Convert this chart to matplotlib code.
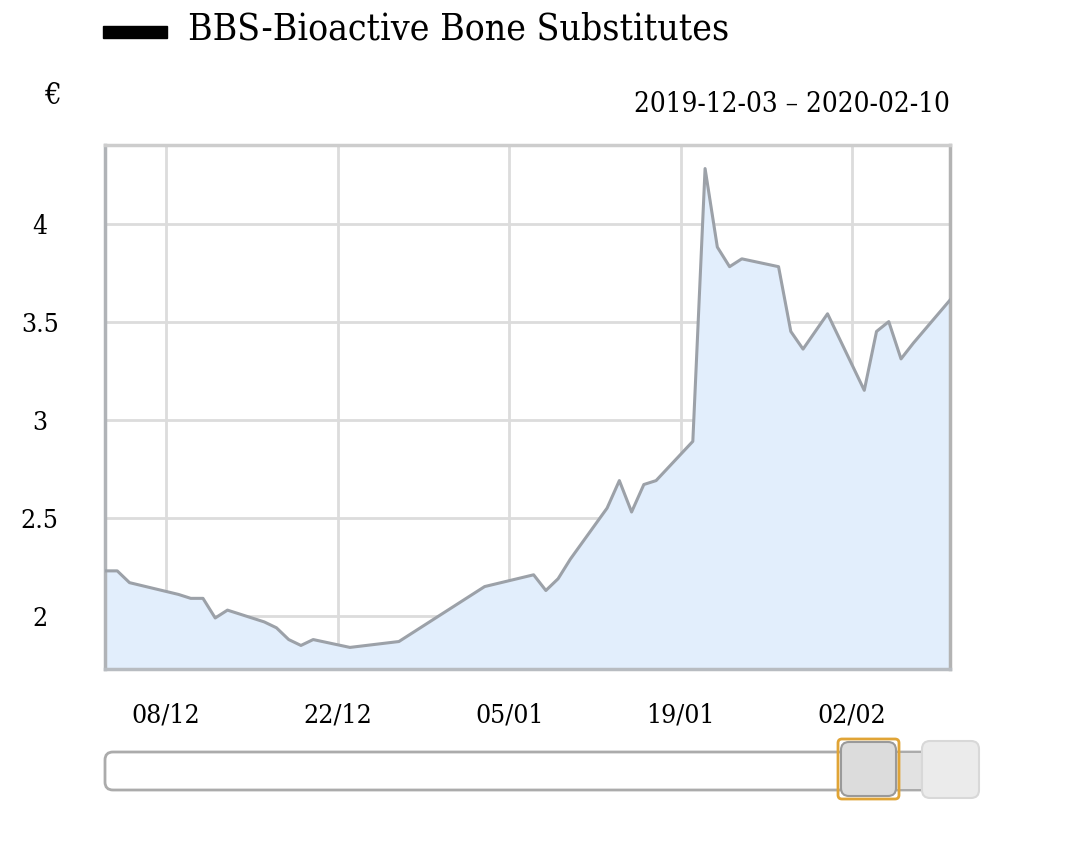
import pandas as pd
import matplotlib.pyplot as plt
import matplotlib.dates as mdates
from matplotlib.patches import FancyBboxPatch, Rectangle

# price series (EUR)
dates = ["2019-12-03", "2019-12-04", "2019-12-05", "2019-12-09", "2019-12-10",
         "2019-12-11", "2019-12-12", "2019-12-13", "2019-12-16", "2019-12-17",
         "2019-12-18", "2019-12-19", "2019-12-20", "2019-12-23", "2019-12-27",
         "2020-01-03", "2020-01-07", "2020-01-08", "2020-01-09", "2020-01-10",
         "2020-01-13", "2020-01-14", "2020-01-15", "2020-01-16", "2020-01-17",
         "2020-01-20", "2020-01-21", "2020-01-22", "2020-01-23", "2020-01-24",
         "2020-01-27", "2020-01-28", "2020-01-29", "2020-01-30", "2020-01-31",
         "2020-02-03", "2020-02-04", "2020-02-05", "2020-02-06", "2020-02-07",
         "2020-02-10"]
prices = [2.23, 2.23, 2.17, 2.11, 2.09,
          2.09, 1.99, 2.03, 1.97, 1.94,
          1.88, 1.85, 1.88, 1.84, 1.87,
          2.15, 2.21, 2.13, 2.19, 2.29,
          2.55, 2.69, 2.53, 2.67, 2.69,
          2.89, 4.28, 3.88, 3.78, 3.82,
          3.78, 3.45, 3.36, 3.45, 3.54,
          3.15, 3.45, 3.50, 3.31, 3.39,
          3.61]

series_name = "BBS-Bioactive Bone Substitutes"
date_range = "2019-12-03 \u2013 2020-02-10"
x_ticks = ["2019-12-08", "2019-12-22", "2020-01-05", "2020-01-19", "2020-02-02"]
y_ticks = [2, 2.5, 3, 3.5, 4]
y_labels = ["2", "2.5", "3", "3.5", "4"]

df = pd.DataFrame({"date": pd.to_datetime(dates), "price": prices})

plt.rcParams['font.family'] = ['DejaVu Serif']
plt.rcParams['font.stretch'] = 'condensed'

W, H = 1070, 841
fig = plt.figure(figsize=(W / 100, H / 100), dpi=100)

# background overlay in pixel coordinates for legend / slider
bg = fig.add_axes([0, 0, 1, 1])
bg.set_xlim(0, W)
bg.set_ylim(H, 0)
bg.axis('off')

ax = fig.add_axes([105 / W, 1 - 669 / H, 845 / W, 524 / H])
line_col = '#9ca1a8'
ax.fill_between(df['date'], df['price'], 0, color='#e2eefc', zorder=1)
ax.plot(df['date'], df['price'], color=line_col, lw=2.2, zorder=3)

ax.set_xlim(pd.Timestamp("2019-12-03"), pd.Timestamp("2020-02-10"))
ax.set_ylim(1.73, 4.40)
ax.set_xticks(pd.to_datetime(x_ticks))
ax.xaxis.set_major_formatter(mdates.DateFormatter('%d/%m'))
ax.set_yticks(y_ticks)
ax.set_yticklabels(y_labels)
for lab in ax.get_yticklabels():
    lab.set_horizontalalignment('center')
ax.tick_params(axis='y', length=0, pad=47, labelsize=19)
ax.tick_params(axis='x', length=0, pad=24, labelsize=19)
ax.grid(True, color='#dcdcdc', lw=2, zorder=0)
ax.set_axisbelow(True)
for side, col in [('left', '#b0b3b7'), ('bottom', '#b8bcc1'),
                  ('top', '#cdcdcd'), ('right', '#b3b3b3')]:
    ax.spines[side].set_color(col)
    ax.spines[side].set_linewidth(2.5)

# legend + labels
bg.add_patch(Rectangle((103, 26), 64, 12, color='black'))
bg.text(188, 29, series_name, fontsize=26.7, va='center', ha='left')
bg.text(52, 96, "\u20ac", fontsize=21, va='center', ha='center')
bg.text(950, 104, date_range, fontsize=20, va='center', ha='right')

# range slider under the chart
bg.add_patch(FancyBboxPatch((105, 752), 840, 38, boxstyle="round,pad=0,rounding_size=8",
                            fc='white', ec='#ababab', lw=2))
bg.add_patch(Rectangle((868, 753), 70, 36, fc='#e2e2e2', ec='none'))
bg.add_patch(FancyBboxPatch((922, 741), 57, 57, boxstyle="round,pad=0,rounding_size=8",
                            fc='#ebebeb', ec='#d8d8d8', lw=1.5))
bg.add_patch(FancyBboxPatch((838, 739), 61, 60, boxstyle="round,pad=0,rounding_size=4",
                            fc='none', ec='#e0a436', lw=2))
bg.add_patch(FancyBboxPatch((841, 742), 55, 54, boxstyle="round,pad=0,rounding_size=8",
                            fc='#dcdcdc', ec='#9a9a9a', lw=1.5))

fig.savefig('out.png', dpi=100)
